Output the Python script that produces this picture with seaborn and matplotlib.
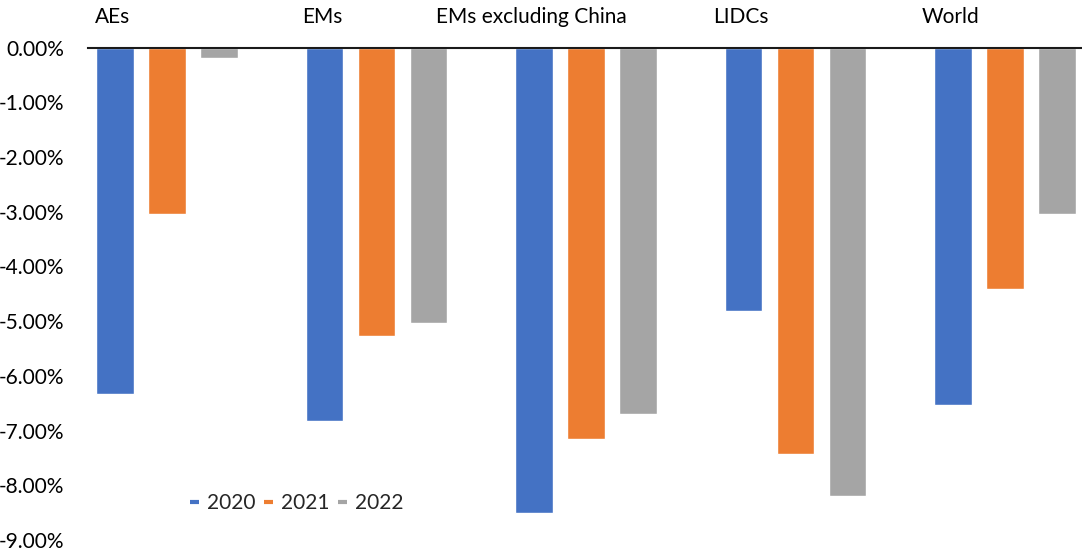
import matplotlib
matplotlib.use("Agg")
import matplotlib.pyplot as plt
from matplotlib.lines import Line2D
import seaborn as sns
import pandas as pd

regions = ["AEs", "EMs", "EMs excluding China", "LIDCs", "World"]
years = ["2020", "2021", "2022"]
values_2020 = [-6.34, -6.83, -8.51, -4.82, -6.54]
values_2021 = [-3.04, -5.27, -7.15, -7.43, -4.41]
values_2022 = [-0.19, -5.03, -6.69, -8.19, -3.04]
y_ticks = [0, -1, -2, -3, -4, -5, -6, -7, -8, -9]

colors = ["#4472C4", "#ED7D31", "#A5A5A5"]

df = pd.DataFrame({
    "region": regions * 3,
    "year": [years[0]] * 5 + [years[1]] * 5 + [years[2]] * 5,
    "value": values_2020 + values_2021 + values_2022,
})

sns.set_theme(style="white")
plt.rcParams["font.family"] = ["Lato", "DejaVu Sans"]

fig = plt.figure(figsize=(10.82, 5.52), dpi=100)
ax = fig.add_axes([88 / 1082, 12 / 552, 1 - 88 / 1082, (540 - 47.5) / 552])

sns.barplot(data=df, x="region", y="value", hue="year", order=regions,
            hue_order=years, palette=colors, width=0.745, gap=0.28,
            saturation=1, legend=False, ax=ax)

ax.set_xlim(-0.377, 4.368)
ax.set_ylim(-9, 0)
ax.set_yticks(y_ticks)
ax.set_yticklabels([f"{v:.2f}%" for v in y_ticks], fontsize=15, color="#000000")
ax.tick_params(axis="y", length=0, pad=17)
ax.set_xticks([])
ax.set_xlabel("")
ax.set_ylabel("")

for side in ["left", "right", "bottom"]:
    ax.spines[side].set_visible(False)
ax.spines["top"].set_visible(True)
ax.spines["top"].set_color("#1a1a1a")
ax.spines["top"].set_linewidth(1.5)

# region names sit above the zero line, shifted left of each bar group
for i, name in enumerate(regions):
    ax.text(i - 0.26, 1.049, name, transform=ax.get_xaxis_transform(),
            ha="center", va="baseline", fontsize=15, color="#000000")

handles = [Line2D([0], [0], color=c, lw=3, solid_capstyle="butt") for c in colors]
fig.legend(handles, years, loc="center left",
           bbox_to_anchor=(190 / 1082, 1 - 503 / 552), ncol=3, frameon=False,
           fontsize=15, handlelength=0.43, handletextpad=0.38,
           columnspacing=0.42, borderpad=0, borderaxespad=0)

fig.savefig("out.png", dpi=100)
